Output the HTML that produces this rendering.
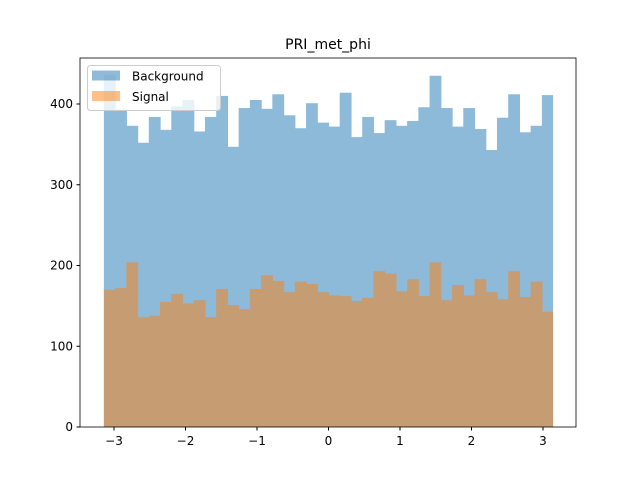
<!DOCTYPE html>
<html><head><meta charset="utf-8"><style>body{margin:0;background:#fff}svg{display:block;font-family:"DejaVu Sans","Liberation Sans",sans-serif}</style></head>
<body>
<svg id="chart" width="640" height="480">
<rect width="640" height="480" fill="#fff"/>
<text x="328" y="49" font-size="14" text-anchor="middle">PRI_met_phi</text>
<g id="bg-bars" opacity="0.5"></g>
<g id="sig-bars" opacity="0.5"></g>
<rect x="80" y="58" width="496" height="369" fill="none" stroke="#000" stroke-width="0.8"/>
<g id="axes" font-size="12"></g>
<g>
<rect x="87.5" y="65.5" width="133" height="45" rx="3" fill="#fff" fill-opacity="0.8" stroke="#ccc"/>
<rect x="92" y="70.5" width="28" height="10" fill="#1f77b4" opacity="0.5"/>
<text x="132" y="80.5" font-size="12">Background</text>
<rect x="92" y="91" width="28" height="10" fill="#ff7f0e" opacity="0.5"/>
<text x="132" y="101" font-size="12">Signal</text>
</g>
</svg>
<script>
const background=[436,393,373,352,384,368,397,405,366,384,410,347,395,405,394,412,386,370,401,377,372,414,359,384,364,380,373,379,396,435,395,372,395,369,343,383,412,365,373,411];
const signal=[170,172,204,136,138,155,165,153,157,136,171,151,146,171,188,181,167,180,177,167,163,162,156,160,193,190,168,183,162,204,157,176,163,183,167,158,193,161,180,143];
const xTicks=[-3,-2,-1,0,1,2,3];
const yTicks=[0,100,200,300,400];
const xMin=-Math.PI,xMax=Math.PI;
const sx=v=>328.5+v*71.5;
const sy=v=>427-v*0.8075;
const NS="http://www.w3.org/2000/svg";
const axes=document.getElementById('axes');
function series(arr,color,name,g){
  const w=(xMax-xMin)/arr.length;
  arr.forEach((v,i)=>{
    const r=document.createElementNS(NS,'rect');
    const x0=sx(xMin+i*w),x1=sx(xMin+(i+1)*w);
    const last=i===arr.length-1;
    r.setAttribute('x',x0);r.setAttribute('width',x1-x0+(last?0:0.6));
    r.setAttribute('y',sy(v));r.setAttribute('height',sy(0)-sy(v));
    r.setAttribute('fill',color);
    
    
    g.appendChild(r);
  });
}
series(background,'#1f77b4','background',document.getElementById('bg-bars'));
series(signal,'#ff7f0e','signal',document.getElementById('sig-bars'));
xTicks.forEach(t=>{
  const x=sx(t);
  const l=document.createElementNS(NS,'line');
  l.setAttribute('x1',x);l.setAttribute('x2',x);l.setAttribute('y1',427);l.setAttribute('y2',430.5);l.setAttribute('stroke','#000');
  
  
  axes.appendChild(l);
  const tx=document.createElementNS(NS,'text');
  tx.setAttribute('x',x);tx.setAttribute('y',445);tx.setAttribute('text-anchor','middle');
  tx.textContent=t<0?'\u2212'+(-t):String(t);
  
  
  axes.appendChild(tx);
});
yTicks.forEach(t=>{
  const y=sy(t);
  const l=document.createElementNS(NS,'line');
  l.setAttribute('x1',76.5);l.setAttribute('x2',80);l.setAttribute('y1',y);l.setAttribute('y2',y);l.setAttribute('stroke','#000');
  
  
  axes.appendChild(l);
  const tx=document.createElementNS(NS,'text');
  tx.setAttribute('x',73);tx.setAttribute('y',y+4);tx.setAttribute('text-anchor','end');
  tx.textContent=String(t);
  
  
  axes.appendChild(tx);
});
</script>
</body></html>
